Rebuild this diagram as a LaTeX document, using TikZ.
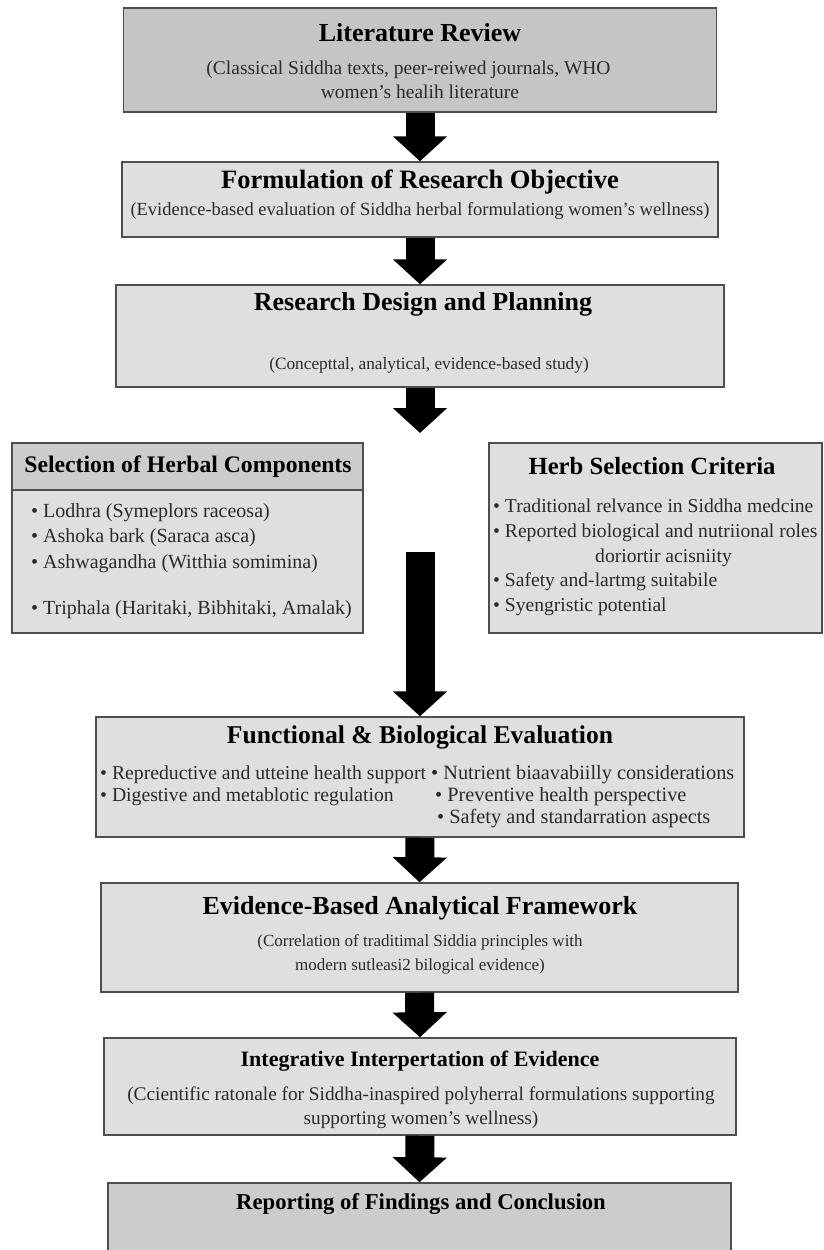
\documentclass[tikz,border=0pt]{standalone}
\usepackage{fontspec}
\setmainfont{Liberation Serif}
\usetikzlibrary{arrows.meta}
\definecolor{ink}{HTML}{2A2A2A}
\definecolor{rim}{HTML}{4E4E4E}
\definecolor{dark}{HTML}{C5C5C5}
\definecolor{mid}{HTML}{CCCCCC}
\definecolor{pale}{HTML}{DFDFDF}

\begin{document}
\begin{tikzpicture}[x=1pt,y=-1pt,text=ink,
  stage/.style={draw=rim,line width=1.5pt,fill=pale,inner sep=0pt},
  ttl/.style={font=\fontsize{26}{30}\selectfont\bfseries,text=black},
  txt/.style={font=\fontsize{17}{24}\selectfont,align=center},
  lst/.style={font=\fontsize{20}{24.75}\selectfont,align=left,anchor=west,inner sep=0pt},
  blk/.style={line width=29pt,-{Triangle[width=53pt,length=25pt]}}]
  \useasboundingbox (0,0) rectangle (824,1250);

  \node[stage,fill=dark,minimum width=593pt,minimum height=104pt] (lit) at (420,60) {};
  \node[stage,minimum width=596pt,minimum height=75pt] (obj) at (420,199.5) {};
  \node[stage,minimum width=608pt,minimum height=102pt] (plan) at (420,336) {};
  \node[stage,fill=mid,minimum width=351pt,minimum height=47pt] (selhead) at (187.5,466.5) {};
  \node[stage,minimum width=351pt,minimum height=143pt] (selbody) at (187.5,561.5) {};
  \node[stage,minimum width=333pt,minimum height=190pt] (crit) at (655.5,538) {};
  \node[stage,minimum width=648pt,minimum height=120pt] (eval) at (420,777) {};
  \node[stage,minimum width=637pt,minimum height=109pt] (frame) at (419.5,937.5) {};
  \node[stage,minimum width=632pt,minimum height=97pt] (interp) at (420,1086.5) {};
  \node[stage,fill=mid,minimum width=623pt,minimum height=82pt] (report) at (419.5,1224) {};

  \coordinate (fork) at (420,433);
  \coordinate (join) at (420,552);
  \draw[blk] (lit.south) -- (obj.north);
  \draw[blk] (obj.south) -- (plan.north);
  \draw[blk] (plan.south) -- (fork);
  \draw[blk] (join) -- (eval.north);
  \draw[blk] (eval.south) -- (frame.north);
  \draw[blk] (frame.south) -- (interp.north);
  \draw[blk] (interp.south) -- (report.north);

  \node[ttl] (litT) at (420,33) {Literature Review};
  \node[txt,font=\fontsize{19.5}{24}\selectfont] (litS) at (420,80)
    {(Classical Siddha texts, peer-reiwed journals, WHO\hspace*{23pt}\\women's healih literature};
  \node[ttl,font=\fontsize{26.5}{30}\selectfont\bfseries] (objT) at (420,182)
    {Formulation of Research Objective};
  \node[txt,font=\fontsize{18.5}{24}\selectfont] (objS) at (420,211)
    {(Evidence-based evaluation of Siddha herbal formulationg women's wellness)};
  \node[ttl] (planT) at (423,304) {Research Design and Planning};
  \node[txt,font=\fontsize{17.3}{24}\selectfont] (planS) at (429,365)
    {(Concepttal, analytical, evidence-based study)};

  \node[ttl,font=\fontsize{23.7}{28}\selectfont\bfseries] (selT) at (188,467)
    {Selection of Herbal Components};
  \node[lst,font=\fontsize{20}{25.5}\selectfont] (selL) at (31,561)
    {• Lodhra (Symeplors raceosa)\\
     • Ashoka bark (Saraca asca)\\
     • Ashwagandha (Witthia somimina)\\[21pt]
     • Triphala (Haritaki, Bibhitaki, Amalak)};
  \node[ttl,font=\fontsize{24.7}{28}\selectfont\bfseries] (critT) at (652,466)
    {Herb Selection Criteria};
  \node[lst,font=\fontsize{19.6}{24.75}\selectfont] (critL) at (493,557.5)
    {• Traditional relvance in Siddha medcine\\
     • Reported biological and nutriional roles\\
     \hspace*{102pt}doriortir acisniity\\
     • Safety and-lartmg suitabile\\
     • Syengristic potential};

  \node[ttl,font=\fontsize{25.6}{30}\selectfont\bfseries] (evalT) at (420,737)
    {Functional \& Biological Evaluation};
  \node[lst,font=\fontsize{19.7}{22}\selectfont] (evalL) at (100,786)
    {• Repreductive and utteine health support\\
     • Digestive and metablotic regulation};
  \node[lst,font=\fontsize{20.3}{22}\selectfont] (evalR) at (431,797)
    {• Nutrient biaavabiilly considerations\\
     \hspace*{4pt}• Preventive health perspective\\
     \hspace*{6pt}• Safety and standarration aspects};

  \node[ttl] (frameT) at (420,908) {Evidence-Based Analytical Framework};
  \node[txt] (frameS) at (420,954)
    {(Correlation of traditimal Siddia principles with\\modern sutleasi2 bilogical evidence)};
  \node[ttl,font=\fontsize{22}{28}\selectfont\bfseries] (interpT) at (420,1061)
    {Integrative Interpertation of Evidence};
  \node[txt,font=\fontsize{19.3}{24}\selectfont] (interpS) at (421,1108)
    {(Ccientific ratonale for Siddha-inaspired polyherral formulations supporting\\supporting women's wellness)};
  \node[ttl,font=\fontsize{22.7}{28}\selectfont\bfseries] (reportT) at (421,1204)
    {Reporting of Findings and Conclusion};
\end{tikzpicture}
\end{document}
